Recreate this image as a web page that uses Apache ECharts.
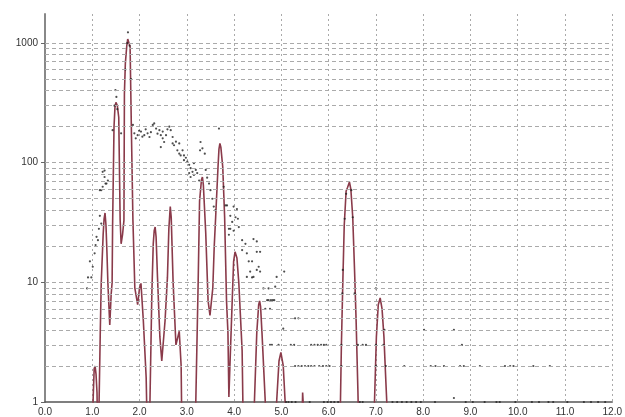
<!DOCTYPE html>
<html><head><meta charset="utf-8">
<script src="https://cdn.jsdelivr.net/npm/echarts@6/dist/echarts.min.js"></script>
<style>html,body{margin:0;padding:0;background:#fff}#c{width:625px;height:417px}</style>
</head><body><div id="c"></div>
<script>
// x tick values (labels shown with one decimal)
const xTicks = [0,1,2,3,4,5,6,7,8,9,10,11,12];
// y axis range (log)
const yMin = 1, yMax = 1750;
// horizontal grid lines (log decades with 2..9 subdivisions)
const yGrid = [2,3,4,5,6,7,8,9,10,20,30,40,50,60,70,80,90,100,200,300,400,500,600,700,800,900,1000];

// Smoothed curve (maroon line): [x, value]; values < 1 fall below the plot
const curve = [
  [0.00,0.4],[0.99,0.4],
  [1.00,0.4],[1.02,1.1],[1.04,1.9],[1.06,2.0],[1.08,1.7],[1.10,1.2],[1.12,0.4],
  [1.14,0.8],[1.17,4],[1.19,10],[1.23,25],[1.25,34],[1.27,38],[1.29,30],[1.31,18],[1.33,10],[1.37,4.4],
  [1.40,8],[1.42,10],[1.43,30],[1.46,200],[1.48,290],[1.50,320],[1.53,300],[1.56,240],[1.59,33],
  [1.61,21],[1.64,25],[1.67,33],[1.68,380],[1.70,680],[1.73,950],[1.75,1080],[1.77,1100],
  [1.80,930],[1.83,164],[1.86,33],[1.90,9],[1.96,6.5],[2.00,9],[2.03,9.8],
  [2.08,4.8],[2.14,1.6],[2.17,0.4],
  [2.21,0.4],[2.22,1.0],[2.26,8],[2.29,21],[2.31,27],[2.33,29],[2.35,24],[2.38,11],[2.43,3.5],[2.47,2.2],
  [2.54,4.8],[2.59,11],[2.62,28],[2.65,43],[2.67,35],[2.71,10],[2.77,3.0],[2.84,3.9],
  [2.88,2.0],[2.90,0.4],
  [3.18,0.4],[3.19,1.0],[3.24,10],[3.27,48],[3.31,72],[3.33,76],[3.35,65],[3.40,26],[3.45,7],[3.49,5.3],
  [3.55,9],[3.58,20],[3.61,35],[3.66,92],[3.68,130],[3.70,145],[3.72,135],[3.76,92],[3.80,35],[3.84,7],
  [3.87,3.8],[3.89,1.1],[3.92,2.5],[3.96,7],[3.99,15],[4.02,18],[4.04,18.6],[4.06,16],[4.10,9.9],
  [4.17,2.7],[4.20,0.4],
  [4.42,0.4],[4.43,1.0],[4.48,3.8],[4.52,6.5],[4.54,7],[4.56,6.3],[4.59,3.8],[4.66,1.0],[4.67,0.4],
  [4.89,0.4],[4.90,1.0],[4.95,2.2],[4.99,2.6],[5.04,2.0],[5.08,1.0],[5.09,0.4],
  [5.43,0.5],[5.45,1.2],[5.48,1.2],[5.50,0.5],
  [6.23,0.5],[6.25,1.0],[6.27,3],[6.30,10],[6.33,30],[6.37,58],[6.40,62],[6.44,69],
  [6.47,60],[6.51,35],[6.55,12],[6.58,5],[6.62,1.2],[6.64,0.5],
  [6.96,0.5],[6.97,1.0],[7.01,3.5],[7.05,6.5],[7.09,7.4],[7.13,6],[7.17,3.5],
  [7.21,1.5],[7.23,1.0],[7.25,0.5],
  [12.0,0.5]
];

// Raw points (black dots): [x, value]
const points = [
  [0.89,8.9],[0.91,11],[0.95,15],[0.98,11],[1.01,13.5],[1.05,17.5],[1.07,20.5],[1.09,24],
  [1.12,22.5],[1.14,28],[1.16,36],[1.19,31],[1.16,59],[1.19,59],[1.22,63],[1.22,84],
  [1.26,76],[1.26,86],[1.28,67],[1.30,67],[1.33,71],
  [1.43,187],[1.47,300],[1.49,405],[1.51,355],[1.53,280],[1.61,176],[1.70,600],
  [1.74,1000],[1.755,1230],[1.79,950],[1.82,500],[1.86,207],
  [1.89,176],[1.92,160],[1.96,170],[1.99,185],[2.03,182],[2.06,165],[2.10,170],[2.13,190],
  [2.17,176],[2.21,164],[2.24,180],[2.28,207],[2.31,213],[2.35,193],[2.38,175],[2.42,187],
  [2.45,170],[2.45,135],[2.49,160],[2.49,182],[2.52,149],[2.56,170],[2.59,190],[2.63,200],
  [2.66,187],[2.70,164],[2.70,145],[2.73,140],[2.77,150],[2.80,127],[2.84,119],[2.84,145],
  [2.87,115],[2.91,127],[2.94,105],[2.94,115],[2.98,110],[3.01,102],[3.05,96],[3.05,82],
  [3.08,90],[3.08,76],[3.12,84],[3.15,79],[3.15,99],[3.19,87],[3.22,82],[3.26,71],
  [3.29,149],[3.28,127],[3.33,132],[3.38,119],[3.40,87],[3.43,75],[3.47,67],[3.50,59],
  [3.54,50],[3.57,43],[3.60,40],[3.68,193],[3.78,63],[3.85,44],[3.82,44],[3.89,28],
  [3.89,25],[3.92,36],[3.92,28],[3.96,32],[3.99,43],[3.99,27],[4.03,35],[4.06,41],
  [4.08,34],[4.10,29],
  [4.17,22.5],[4.17,18.6],[4.24,21],[4.27,17.5],[4.27,11.1],[4.31,15],[4.34,12.3],
  [4.38,15],[4.38,11],[4.41,23],[4.41,11.1],[4.48,22],[4.48,18],[4.48,12.7],[4.52,13.5],
  [4.55,18],[4.55,12.3],[4.62,8.9],[4.66,6],[4.70,7.1],[4.73,8.9],[4.73,7.1],[4.76,6],
  [4.78,7.1],[4.82,7.1],[4.85,7.1],[4.87,9.2],[4.90,11.1],[5.06,12.3],[5.04,4.1],
  [4.76,3],[4.80,3],[4.94,3],
  [5.29,5],[5.36,5],[8.02,4],[8.65,4],[7.18,4],
  [5.20,3],[5.27,3],[5.63,3],[5.70,3],[5.77,3],[5.84,3],[5.90,3],[5.95,3],[6.27,3],
  [6.62,3],[6.72,3],[6.79,3],[7.00,3],[7.16,3],[8.82,3],
  [5.29,2],[5.36,2],[5.43,2],[5.50,2],[5.57,2],[5.63,2],[5.70,2],[5.80,2],[5.88,2],[5.95,2],
  [6.02,2],[6.27,2],[7.00,2],[7.21,2],[7.60,2],[8.16,2],[8.26,2],[8.44,2],[8.78,2],
  [8.86,2],[9.20,2],[9.73,2],[9.84,2],[9.91,2],[10.33,2],[10.68,2],
  [6.29,8.1],[6.30,12.7],[6.34,34],[6.37,55],[6.48,59],[6.51,35],[6.55,8.1],[7.00,8.9],
  [5.10,1],[5.15,1],[5.22,1],[5.30,1],[5.60,1],[5.90,1],[5.98,1],[6.05,1],[6.12,1],
  [6.20,1],[6.66,1],[6.72,1],[7.35,1],[7.45,1],[7.55,1],[7.65,1],[7.75,1],[7.85,1],
  [7.95,1],[8.25,1],[8.65,1.08],[8.90,1],[9.05,1],[9.30,1],[9.55,1],[9.62,1],[9.95,1],
  [10.3,1],[10.45,1],[10.65,1],[10.75,1],[11.05,1],[11.4,1],[11.55,1],[11.7,1],[11.85,1]
];

const chart = echarts.init(document.getElementById('c'), null, {renderer:'canvas'});
chart.setOption({
  animation:false,
  backgroundColor:'#fff',
  grid:{left:45,right:9,top:14,bottom:15,containLabel:false},
  xAxis:{
    type:'value', min:xTicks[0], max:xTicks[xTicks.length-1], interval:1,
    axisLine:{show:true,lineStyle:{color:'#555',width:1.5}},
    axisTick:{show:false},
    axisLabel:{formatter:v=>v.toFixed(1),fontSize:10,color:'#333',margin:5,fontFamily:'Liberation Sans',showMaxLabel:true},
    splitLine:{show:true,lineStyle:{type:[2,3],color:'#aaa',width:1}}
  },
  yAxis:{
    type:'log', logBase:10, min:yMin, max:yMax,
    axisLine:{show:true,lineStyle:{color:'#888',width:2}},
    axisTick:{show:true,length:4,lineStyle:{color:'#666'}},
    axisLabel:{formatter:v=>String(Math.round(v)),fontSize:10,color:'#333',margin:7,fontFamily:'Liberation Sans',showMaxLabel:false},
    splitLine:{show:false}
  },
  series:[
    {type:'line',data:[],z:1,silent:true,
     markLine:{silent:true,symbol:'none',animation:false,label:{show:false},
       lineStyle:{type:[4,3],color:'#aaa',width:1},
       data:yGrid.map(v=>({yAxis:v}))}},
    {type:'line',data:curve,showSymbol:false,clip:true,
     lineStyle:{color:'#8a3a4a',width:1.6},z:3},
    {type:'scatter',data:points,symbol:'circle',symbolSize:2.2,clip:true,
     itemStyle:{color:'#222'},z:4}
  ]
});
</script></body></html>
